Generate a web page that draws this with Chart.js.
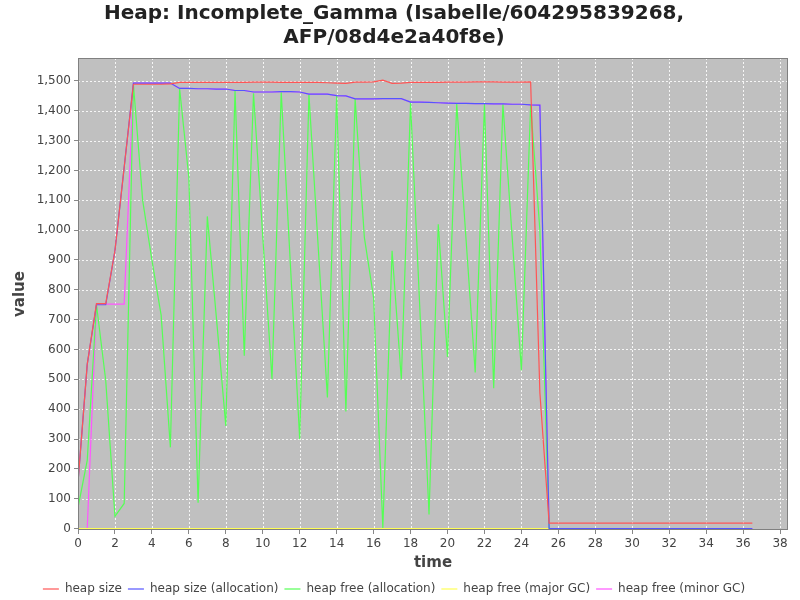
<!DOCTYPE html>
<html>
<head>
<meta charset="utf-8">
<title>Heap: Incomplete_Gamma</title>
<script src="https://cdn.jsdelivr.net/npm/chart.js@4.4.0/dist/chart.umd.min.js"></script>
<style>
  html, body { margin: 0; padding: 0; background: #fff; }
  #wrap { width: 800px; height: 600px; }
</style>
</head>
<body>
<div id="wrap"><canvas id="heapChart" width="800" height="600"></canvas></div>
<script>
// sample times (x axis)
const times = [
  0, 0.5, 1, 1.5, 2, 2.5, 3, 3.5, 4, 4.5,
  5, 5.5, 6, 6.5, 7, 7.5, 8, 8.5, 9, 9.5,
  10, 10.5, 11, 11.5, 12, 12.5, 13, 13.5, 14, 14.5,
  15, 15.5, 16, 16.5, 17, 17.5, 18, 18.5, 19, 19.5,
  20, 20.5, 21, 21.5, 22, 22.5, 23, 23.5, 24, 24.5,
  25, 25.5, 36.5
];
const heapSize = [
  155, 550, 754, 754, 931, 1211, 1489, 1489, 1489, 1489,
  1490, 1495, 1495, 1495, 1495, 1495, 1495, 1495, 1495, 1496,
  1496, 1496, 1495, 1495, 1495, 1495, 1495, 1494, 1493, 1492,
  1496, 1496, 1497, 1503, 1492, 1493, 1495, 1495, 1495, 1495,
  1496, 1496, 1496, 1497, 1497, 1497, 1496, 1496, 1496, 1497,
  455, 18, 18
];
const heapSizeAlloc = [
  155, 550, 750, 750, 931, 1211, 1493, 1493, 1493, 1493,
  1493, 1475, 1475, 1474, 1474, 1473, 1473, 1468, 1468, 1463,
  1463, 1463, 1464, 1464, 1463, 1456, 1456, 1456, 1451, 1450,
  1440, 1440, 1440, 1441, 1441, 1441, 1429, 1429, 1428, 1427,
  1426, 1425, 1425, 1424, 1424, 1423, 1423, 1422, 1422, 1420,
  1419, 0, 0
];
const heapFreeAlloc = [
  70, 228, 750, 497, 41, 84, 1488, 1100, 900, 715,
  272, 1474, 1177, 86, 1046, 700, 344, 1467, 579, 1459,
  980, 500, 1462, 880, 299, 1455, 945, 439, 1450, 392,
  1440, 976, 774, 2, 931, 500, 1427, 740, 47, 1020,
  575, 1423, 973, 523, 1423, 470, 1422, 976, 530, 1420,
  1000, 0, null
];
const heapFreeMajor = [
  0, 0, 0, 0, 0, 0, 0, 0, 0, 0,
  0, 0, 0, 0, 0, 0, 0, 0, 0, 0,
  0, 0, 0, 0, 0, 0, 0, 0, 0, 0,
  0, 0, 0, 0, 0, 0, 0, 0, 0, 0,
  0, 0, 0, 0, 0, 0, 0, 0, 0, 0,
  0, 0, null
];
const heapFreeMinor = [
  null, 0, 752, 752, 752, 752, 1493, 1493, 1493, 1493,
  1493, 1475, 1475, 1474, 1474, 1473, 1473, 1468, 1468, 1463,
  1463, 1463, 1464, 1464, 1463, 1456, 1456, 1456, 1451, 1450,
  1440, 1440, 1440, 1441, 1441, 1441, 1429, 1429, 1428, 1427,
  1426, 1425, 1425, 1424, 1424, 1423, 1423, 1422, 1422, 1420,
  1419, 0, 0
];
const seriesNames = ['heap size', 'heap size (allocation)', 'heap free (allocation)', 'heap free (major GC)', 'heap free (minor GC)'];
const seriesColors = ['#ff5555', '#5555ff', '#55ff55', '#ffff55', '#ff55ff'];

(() => {
  'use strict'

  Chart.defaults.font.family = '"DejaVu Sans", sans-serif';
  Chart.defaults.color = '#444';

  const toPoints = (vals) => times.map((t, i) => ({x: t, y: vals[i]}));
  const allSeries = [heapSize, heapSizeAlloc, heapFreeAlloc, heapFreeMajor, heapFreeMinor];

  // grey plot background, dashed white grid and outline, like the java chart
  const plotBox = {
    id: 'plotBox',
    beforeDraw(chart) {
      const {ctx, chartArea: a} = chart;
      ctx.save();
      ctx.fillStyle = '#c0c0c0';
      ctx.fillRect(a.left, a.top, a.right - a.left, a.bottom - a.top);
      ctx.restore();
    },
    beforeDatasetsDraw(chart) {
      const {ctx, chartArea: a, scales} = chart;
      ctx.save();
      ctx.strokeStyle = 'rgba(255,255,255,0.85)';
      ctx.lineWidth = 1;
      ctx.setLineDash([2, 2]);
      ctx.beginPath();
      scales.x.ticks.forEach(t => {
        const px = Math.round(scales.x.getPixelForValue(t.value)) + 0.5;
        ctx.moveTo(px, a.top);
        ctx.lineTo(px, a.bottom);
      });
      scales.y.ticks.forEach(t => {
        if (t.value === 0) return;
        const py = Math.round(scales.y.getPixelForValue(t.value)) + 0.5;
        ctx.moveTo(a.left, py);
        ctx.lineTo(a.right, py);
      });
      ctx.stroke();
      ctx.restore();
    },
    afterDatasetsDraw(chart) {
      const {ctx, chartArea: a} = chart;
      ctx.save();
      ctx.setLineDash([]);
      ctx.strokeStyle = '#808080';
      ctx.lineWidth = 1;
      ctx.strokeRect(a.left + 0.5, a.top + 0.5, a.right - a.left - 1, a.bottom - a.top - 1);
      ctx.restore();
    }
  };

  // chart.js grid only for the small outside tick marks
  const gridOpts = {drawOnChartArea: false, color: '#888', tickColor: '#888', tickLength: 4};

  const ctx = document.getElementById('heapChart');
  // eslint-disable-next-line no-unused-vars
  const heapChart = new Chart(ctx, {
    type: 'line',
    data: {
      datasets: allSeries.map((vals, i) => ({
        label: seriesNames[i],
        data: toPoints(vals),
        borderColor: seriesColors[i],
        backgroundColor: seriesColors[i],
        borderWidth: 1.2,
        borderDash: [],
        pointRadius: 0,
        lineTension: 0,
        fill: false
      }))
    },
    options: {
      responsive: false,
      animation: false,
      devicePixelRatio: 1,
      layout: {padding: {left: 0, right: 12, top: 0, bottom: -5}},
      plugins: {
        title: {
          display: true,
          text: ['Heap: Incomplete_Gamma (Isabelle/604295839268,', 'AFP/08d4e2a40f8e)'],
          color: '#222',
          font: {size: 20, weight: 'bold'},
          padding: {top: 2, bottom: 8}
        },
        legend: {
          position: 'bottom',
          labels: {
            usePointStyle: true,
            pointStyle: 'line',
            pointStyleWidth: 16,
            padding: 6,
            color: '#444',
            font: {size: 12}
          }
        },
        tooltip: {enabled: false}
      },
      scales: {
        x: {
          type: 'linear',
          min: 0,
          max: 38.43,
          ticks: {stepSize: 2, includeBounds: false, padding: 3, font: {size: 12}, color: '#444'},
          grid: gridOpts,
          border: {display: false},
          title: {display: true, text: 'time', font: {size: 15, weight: 'bold'}, color: '#444', padding: {top: 0, bottom: 5}},
          afterFit(scale) { scale.height = 47; }
        },
        y: {
          min: -5,
          max: 1577,
          ticks: {
            stepSize: 100, includeBounds: false, padding: 3, font: {size: 12}, color: '#444',
            callback: (v) => v.toLocaleString('en-US')
          },
          grid: gridOpts,
          border: {display: false},
          title: {display: true, text: 'value', font: {size: 15, weight: 'bold'}, color: '#444', padding: {top: 11, bottom: 0}},
          afterFit(scale) { scale.width = 78; }
        }
      }
    },
    plugins: [plotBox]
  });
})();
</script>
</body>
</html>
